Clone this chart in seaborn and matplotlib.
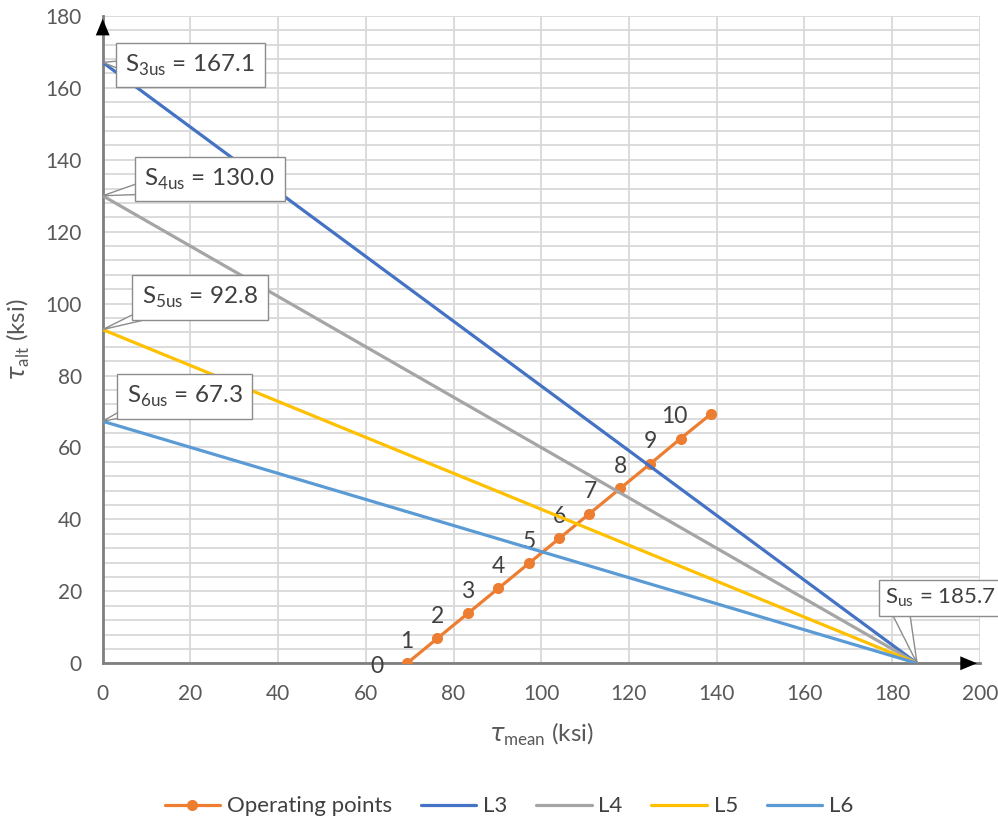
import matplotlib
matplotlib.use("Agg")
import matplotlib.pyplot as plt
import numpy as np
import pandas as pd
import seaborn as sns

# operating points (tau_mean, tau_alt) in ksi
mean_pts = [69.4, 76.3, 83.3, 90.2, 97.2, 104.1, 111.0, 118.0, 124.9, 131.8, 138.8]
alt_pts = [0.0, 6.9, 13.9, 20.8, 27.8, 34.7, 41.6, 48.6, 55.5, 62.5, 69.4]
pt_labels = [str(i) for i in range(11)]

# Goodman-type lines, from (0, S_nus) to (S_us, 0)
line_names = ['L3', 'L4', 'L5', 'L6']
s_nus = [167.1, 130.0, 92.8, 67.3]
s_nus_names = ['3us', '4us', '5us', '6us']
s_us = 185.7

line_colors = ['#4472C4', '#A5A5A5', '#FFC000', '#5B9BD5']
op_color = '#ED7D31'
txt_color = '#404040'

sns.set_style('white')
plt.rcParams['font.family'] = ['Lato', 'DejaVu Sans']
plt.rcParams['mathtext.fontset'] = 'dejavusans'

ops = pd.DataFrame({'mean': mean_pts, 'alt': alt_pts})
rows = []
for name, s in zip(line_names, s_nus):
    rows.append({'line': name, 'mean': 0.0, 'alt': s})
    rows.append({'line': name, 'mean': s_us, 'alt': 0.0})
lines = pd.DataFrame(rows)

fig = plt.figure(figsize=(9.98, 8.22), dpi=100)
ax = fig.add_axes([0.1029, 0.1931, 0.8788, 0.7875])

sns.lineplot(data=ops, x='mean', y='alt', color=op_color, marker='o',
             markersize=8, markeredgewidth=0, linewidth=2.3, sort=False,
             label='Operating points', ax=ax, zorder=3)
sns.lineplot(data=lines, x='mean', y='alt', hue='line', hue_order=line_names,
             palette=line_colors, linewidth=2.3, ax=ax, zorder=4)

for x, y, t in zip(mean_pts, alt_pts, pt_labels):
    ax.annotate(t, (x, y), xytext=(-17, -2), textcoords='offset points',
                ha='right', va='center', fontsize=16.5, color=txt_color)

ax.set_xlim(0, 200)
ax.set_ylim(0, 180)
ax.set_xticks(np.arange(0, 201, 20))
ax.set_yticks(np.arange(0, 181, 20))
ax.set_yticks(np.arange(0, 181, 4), minor=True)
ax.grid(axis='x', which='major', color='#d9d9d9', lw=1.3)
ax.grid(axis='y', which='both', color='#d9d9d9', lw=1.3)
ax.set_axisbelow(True)
ax.tick_params(axis='both', which='both', length=0, pad=15, labelsize=15,
               labelcolor='#595959')

for side in ['top', 'right']:
    ax.spines[side].set_visible(False)
for side in ['left', 'bottom']:
    ax.spines[side].set_color('#7f7f7f')
    ax.spines[side].set_linewidth(2)

# arrow heads on the axes
arw = dict(arrowstyle='-|>,head_length=0.6,head_width=0.25', color='black',
           lw=0, mutation_scale=20)
ax.annotate('', xy=(1, 0), xycoords='axes fraction', xytext=(0.95, 0),
            arrowprops=arw, annotation_clip=False)
ax.annotate('', xy=(0, 1), xycoords='axes fraction', xytext=(0, 0.95),
            arrowprops=arw, annotation_clip=False)

ax.set_xlabel(r'$\tau_{\mathregular{mean}}$ (ksi)', fontsize=17.5, color='#595959',
              labelpad=12)
ax.set_ylabel(r'$\tau_{\mathregular{alt}}$ (ksi)', fontsize=17.5, color='#595959',
              labelpad=10)

# callouts
box = dict(boxstyle='square,pad=0.4', fc='white', ec='#8c8c8c', lw=1)
offsets = [(63, -2), (77, 12), (70, 23), (59, 18)]
rels = [(0.1, 0.4), (0.1, 0.25), (0.25, 0.2), (0.2, 0.2)]
for nm, s, off, rp in zip(s_nus_names, s_nus, offsets, rels):
    ax.annotate(r'S$_{\mathregular{%s}}$ = %.1f' % (nm, s), (0, s), xytext=off,
                textcoords='offset points', ha='center', va='center',
                fontsize=17.5, color=txt_color, bbox=box, zorder=6,
                annotation_clip=False,
                arrowprops=dict(arrowstyle='wedge,tail_width=0.7', fc='white',
                                ec='#8c8c8c', lw=1, patchA=None, shrinkA=0,
                                shrinkB=0, relpos=rp))
ax.annotate(r'S$_{\mathregular{us}}$ = %.1f' % s_us, (s_us, 0), xytext=(17, 47),
            textcoords='offset points', ha='center', va='center',
            fontsize=16, color=txt_color, annotation_clip=False, zorder=6,
            bbox=dict(boxstyle='square,pad=0.3', fc='white', ec='#8c8c8c', lw=1),
            arrowprops=dict(arrowstyle='wedge,tail_width=0.9', fc='white',
                            ec='#8c8c8c', lw=1, patchA=None, shrinkA=0,
                            shrinkB=0, relpos=(0.12, 0.2)))

handles, labels = ax.get_legend_handles_labels()
ax.get_legend().remove()
fig.legend(handles, labels, loc='center', bbox_to_anchor=(0.51, 0.019),
           ncol=5, frameon=False, fontsize=16, handlelength=2.5,
           handletextpad=0.3, columnspacing=1.3, labelcolor=txt_color)

fig.savefig('out.png', dpi=100)
